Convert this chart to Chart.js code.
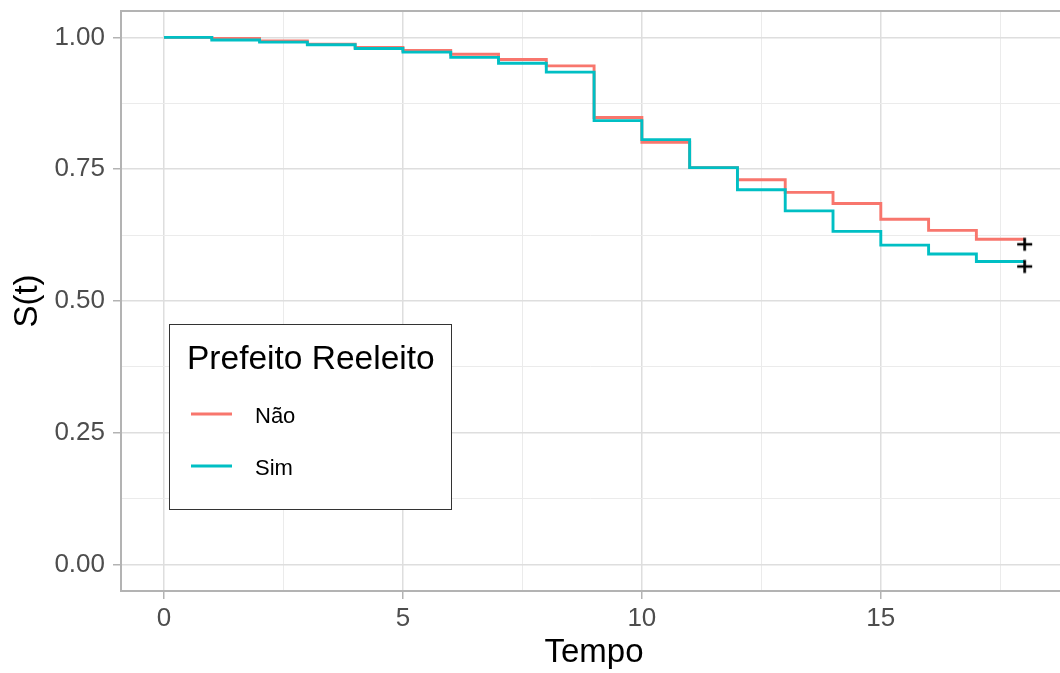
<!DOCTYPE html>
<html>
<head>
<meta charset="utf-8">
<script src="https://cdn.jsdelivr.net/npm/chart.js@4/dist/chart.umd.min.js"></script>
<style>
  body { margin: 0; background: white; }
  canvas { display: block; }
</style>
</head>
<body>
<canvas id="survChart" width="1060" height="673"></canvas>
<script>
// data
const tempo = [0, 1, 2, 3, 4, 5, 6, 7, 8, 9, 10, 11, 12, 13, 14, 15, 16, 17, 18]
const nao = [1.000, 0.998, 0.993, 0.987, 0.981, 0.975, 0.968, 0.958, 0.946, 0.848,
  0.801, 0.753, 0.730, 0.706, 0.685, 0.655, 0.634, 0.617, 0.617]
const sim = [1.000, 0.995, 0.991, 0.986, 0.979, 0.972, 0.962, 0.951, 0.934, 0.842,
  0.806, 0.753, 0.711, 0.671, 0.632, 0.606, 0.589, 0.575, 0.575]
const xMajor = [0, 5, 10, 15]
const xMinor = [2.5, 7.5, 12.5, 17.5]
const yMajor = [0, 0.25, 0.5, 0.75, 1]
const yMinor = [0.125, 0.375, 0.625, 0.875]
const legendTitle = 'Prefeito Reeleito'
const groups = ['Não', 'Sim']
const colors = ['#F8766D', '#00BFC4']

const FONT = '"Liberation Sans", Arial, sans-serif'

function toPoints(values) {
  return tempo.map((t, i) => ({ x: t, y: values[i] }))
}

function isMajor(list, v) {
  return list.some(m => Math.abs(m - v) < 1e-6)
}

// censor mark drawn like a text "+", which sits a little under its point
function plusMark() {
  const cv = document.createElement('canvas')
  cv.width = 30
  cv.height = 30
  const p = cv.getContext('2d')
  p.strokeStyle = '#000'
  p.lineWidth = 2.7
  p.beginPath()
  p.moveTo(8, 20)
  p.lineTo(23, 20)
  p.moveTo(15.5, 13.5)
  p.lineTo(15.5, 26.5)
  p.stroke()
  return cv
}

function noPadding(scale) {
  scale.paddingTop = 0
  scale.paddingBottom = 0
  scale.paddingLeft = 0
  scale.paddingRight = 0
}

// panel border, axis titles and the boxed legend
const extras = {
  id: 'extras',
  beforeDatasetsDraw(chart) {
    const { ctx, chartArea: a } = chart
    ctx.save()
    ctx.strokeStyle = '#B3B3B3'
    ctx.lineWidth = 2
    ctx.beginPath()
    ctx.moveTo(a.right + 10, a.top)
    ctx.lineTo(a.left, a.top)
    ctx.lineTo(a.left, a.bottom)
    ctx.lineTo(a.right + 10, a.bottom)
    ctx.stroke()
    ctx.restore()
  },
  afterDraw(chart) {
    const { ctx, chartArea: a } = chart
    ctx.save()
    ctx.fillStyle = '#000'
    ctx.font = `33px ${FONT}`
    ctx.textAlign = 'center'
    ctx.textBaseline = 'alphabetic'
    ctx.fillText('Tempo', 594, 662)

    ctx.translate(37, (a.top + a.bottom) / 2)
    ctx.rotate(-Math.PI / 2)
    ctx.fillText('S(t)', 0, 0)
    ctx.restore()

    // legend
    ctx.save()
    ctx.fillStyle = '#fff'
    ctx.fillRect(169.5, 324.5, 282, 185)
    ctx.strokeStyle = '#333'
    ctx.lineWidth = 1
    ctx.strokeRect(169.5, 324.5, 282, 185)
    ctx.fillStyle = '#000'
    ctx.font = `33.5px ${FONT}`
    ctx.textAlign = 'left'
    ctx.fillText(legendTitle, 187, 369)
    ctx.font = `22px ${FONT}`
    groups.forEach((g, i) => {
      const y = 414 + i * 52
      ctx.strokeStyle = colors[i]
      ctx.lineWidth = 2.8
      ctx.beginPath()
      ctx.moveTo(191, y)
      ctx.lineTo(232, y)
      ctx.stroke()
      ctx.fillStyle = '#000'
      ctx.fillText(g, 255, y + 9)
    })
    ctx.restore()
  }
}

const c = document.getElementById('survChart').getContext('2d')

new Chart(c, {
  type: 'line',
  data: {
    datasets: [
      {
        label: groups[0],
        data: toPoints(nao),
        borderColor: colors[0],
        borderWidth: 2.9,
        pointRadius: 0,
        stepped: 'before',
        order: 2
      },
      {
        label: groups[1],
        data: toPoints(sim),
        borderColor: colors[1],
        borderWidth: 2.9,
        pointRadius: 0,
        stepped: 'before',
        order: 1
      },
      {
        label: 'censura',
        type: 'scatter',
        data: [
          { x: tempo[tempo.length - 1], y: nao[nao.length - 1] },
          { x: tempo[tempo.length - 1], y: sim[sim.length - 1] }
        ],
        pointStyle: plusMark(),
        pointRadius: 15,
        order: 0
      }
    ]
  },
  options: {
    responsive: false,
    animation: false,
    devicePixelRatio: 1,
    layout: { autoPadding: false, padding: { top: 11, left: 0, right: 0, bottom: 0 } },
    plugins: {
      legend: { display: false },
      tooltip: { enabled: false }
    },
    scales: {
      x: {
        type: 'linear',
        min: -0.9,
        max: 18.75,
        afterBuildTicks(scale) {
          scale.ticks = [...xMajor, ...xMinor].sort((p, q) => p - q).map(v => ({ value: v }))
        },
        afterFit(scale) {
          scale.height = 82
          noPadding(scale)
        },
        border: { display: false },
        grid: {
          color: ctx => isMajor(xMajor, ctx.tick.value) ? '#DEDEDE' : '#EBEBEB',
          lineWidth: ctx => isMajor(xMajor, ctx.tick.value) ? 1.5 : 1,
          tickColor: ctx => isMajor(xMajor, ctx.tick.value) ? '#B3B3B3' : 'rgba(0,0,0,0)',
          tickWidth: 1.5,
          tickLength: 8
        },
        ticks: {
          autoSkip: false,
          maxRotation: 0,
          color: '#4D4D4D',
          font: { family: FONT, size: 26 },
          padding: 4,
          callback: v => isMajor(xMajor, v) ? String(v) : ''
        }
      },
      y: {
        type: 'linear',
        min: -0.05,
        max: 1.05,
        afterBuildTicks(scale) {
          scale.ticks = [...yMajor, ...yMinor].sort((p, q) => p - q).map(v => ({ value: v }))
        },
        afterFit(scale) {
          scale.width = 121
          noPadding(scale)
        },
        border: { display: false },
        grid: {
          color: ctx => isMajor(yMajor, ctx.tick.value) ? '#DEDEDE' : '#EBEBEB',
          lineWidth: ctx => isMajor(yMajor, ctx.tick.value) ? 1.5 : 1,
          tickColor: ctx => isMajor(yMajor, ctx.tick.value) ? '#B3B3B3' : 'rgba(0,0,0,0)',
          tickWidth: 1.5,
          tickLength: 8
        },
        ticks: {
          autoSkip: false,
          color: '#4D4D4D',
          font: { family: FONT, size: 26 },
          padding: 8,
          callback: v => isMajor(yMajor, v) ? v.toFixed(2) : ''
        }
      }
    }
  },
  plugins: [extras]
})
</script>
</body>
</html>
